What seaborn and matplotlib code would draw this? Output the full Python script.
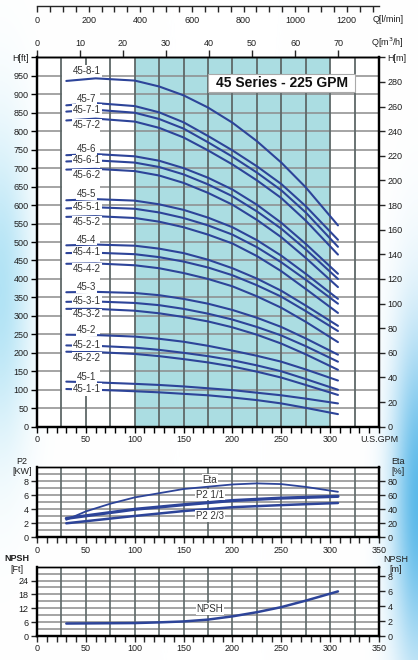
import numpy as np
import pandas as pd
import seaborn as sns
import matplotlib.pyplot as plt
from matplotlib.patches import Rectangle
from matplotlib.ticker import MultipleLocator

# %%
# head curves, H[ft] read at these flows (U.S.GPM)
gpm = [30, 60, 100, 125, 150, 175, 200, 225, 250, 275, 308]

h_45_8_1 = [936, 943, 937, 921, 897, 864, 823, 773, 715, 648, 545]
h_45_7 = [870, 876, 868, 851, 824, 787, 748, 705, 657, 597, 506]
h_45_7_1 = [853, 858, 850, 833, 807, 770, 731, 688, 640, 580, 487]
h_45_7_2 = [829, 834, 826, 809, 783, 748, 710, 667, 619, 558, 466]
h_45_6 = [735, 738, 732, 720, 700, 674, 642, 601, 552, 495, 414]
h_45_6_1 = [718, 721, 715, 703, 683, 656, 624, 583, 536, 480, 400]
h_45_6_2 = [696, 698, 692, 680, 660, 633, 601, 560, 513, 457, 378]
h_45_5 = [613, 616, 612, 602, 587, 566, 540, 505, 463, 414, 346]
h_45_5_1 = [591, 594, 590, 580, 565, 545, 520, 486, 445, 398, 333]
h_45_5_2 = [568, 570, 565, 555, 540, 520, 496, 462, 421, 373, 308]
h_45_4 = [491, 493, 490, 482, 470, 452, 429, 401, 368, 328, 273]
h_45_4_1 = [470, 471, 467, 459, 447, 431, 410, 383, 352, 313, 259]
h_45_4_2 = [441, 442, 437, 429, 416, 400, 380, 353, 322, 284, 229]
h_45_3 = [364, 365, 362, 356, 346, 333, 316, 295, 270, 239, 195]
h_45_3_1 = [338, 339, 335, 329, 319, 306, 290, 270, 247, 218, 176]
h_45_3_2 = [319, 319, 314, 307, 297, 285, 269, 249, 225, 196, 154]
h_45_2 = [249, 248, 244, 238, 230, 219, 206, 192, 176, 155, 125]
h_45_2_1 = [220, 219, 214, 208, 200, 191, 180, 166, 150, 129, 100]
h_45_2_2 = [203, 202, 197, 191, 183, 174, 163, 149, 133, 113, 86]
h_45_1 = [122, 120, 116, 113, 109, 104, 99, 92, 85, 76, 63]
h_45_1_1 = [102, 100, 96, 93, 89, 85, 79, 72, 63, 51, 34]

models = ['45-8-1', '45-7', '45-7-1', '45-7-2', '45-6', '45-6-1', '45-6-2',
          '45-5', '45-5-1', '45-5-2', '45-4', '45-4-1', '45-4-2',
          '45-3', '45-3-1', '45-3-2', '45-2', '45-2-1', '45-2-2',
          '45-1', '45-1-1']
heads = [h_45_8_1, h_45_7, h_45_7_1, h_45_7_2, h_45_6, h_45_6_1, h_45_6_2,
         h_45_5, h_45_5_1, h_45_5_2, h_45_4, h_45_4_1, h_45_4_2,
         h_45_3, h_45_3_1, h_45_3_2, h_45_2, h_45_2_1, h_45_2_2,
         h_45_1, h_45_1_1]

# power / efficiency
p2_gpm = [30, 100, 150, 200, 250, 308]
p2_full = [2.7, 4.0, 4.65, 5.25, 5.6, 5.85]
p2_23 = [2.0, 3.05, 3.75, 4.3, 4.6, 4.9]
eta_gpm = [30, 50, 75, 100, 150, 200, 225, 250, 275, 308]
eta_pct = [25, 37, 48, 57, 69, 75.5, 77, 76, 72, 65]

# NPSH [ft]
npsh_gpm = [30, 100, 125, 150, 175, 200, 225, 250, 275, 308]
npsh_ft = [5.4, 5.6, 5.9, 6.3, 7.1, 8.5, 10.3, 12.5, 15.3, 19.3]

title = '45 Series - 225 GPM'

# %%
sns.set_style('white')
plt.rcParams['font.family'] = ['Liberation Sans', 'DejaVu Sans']

BLUE = '#2d4499'
TEAL = '#abdde2'
VGRID = '#5e6868'
HGRID = '#8c8c8c'
TXT = '#1e1e1e'
W, H = 418, 660


def box(x0, y0, x1, y1):
    return [x0 / W, 1 - y1 / H, (x1 - x0) / W, (y1 - y0) / H]


def ftext(x, y, s, **kw):
    fig.text(x / W, 1 - y / H, s, ha='center', va='center', color=TXT, **kw)


def frame(a, lw=1.6):
    for s in ['left', 'right', 'bottom']:
        a.spines[s].set_linewidth(lw)
        a.spines[s].set_color('black')
    a.spines['top'].set_linewidth(1.0)
    a.spines['top'].set_color('black')


fig = plt.figure(figsize=(W / 100, H / 100), dpi=100)

# sky-like backdrop at the edges
bg = fig.add_axes([0, 0, 1, 1], zorder=-10)
yy, xx = np.mgrid[0:H, 0:W]
left = 0.55 * np.exp(-(xx / 30.0) ** 2) * np.exp(-((yy - 290) / 150.0) ** 2)
right = 0.85 * np.exp(-((W - xx) / 26.0) ** 2) * np.exp(-((yy - 500) / 170.0) ** 2)
img = np.ones((H, W, 3))
img = img * (1 - left[..., None]) + np.array([0.45, 0.80, 0.93]) * left[..., None]
img = img * (1 - right[..., None]) + np.array([0.25, 0.68, 0.90]) * right[..., None]
bg.imshow(img, aspect='auto')
bg.axis('off')

# %%
# main head chart
ax = fig.add_axes(box(37, 57.3, 379, 426.7))
ax.set_facecolor('white')
ax.set_xlim(0, 350)
ax.set_ylim(0, 1000)
ax.axvspan(100, 300, color=TEAL, zorder=0, lw=0)
for y in range(50, 1000, 50):
    ax.axhline(y, color=HGRID, lw=1.1, zorder=1)
for x in range(25, 350, 25):
    if x != 50:
        ax.axvline(x, color=VGRID, lw=1.3, zorder=1.2)
ax.add_patch(Rectangle((25.8, 86), 38.5, 890, fc='white', ec='none', zorder=1.5))
ax.vlines(50, 0, 84, color=VGRID, lw=1.3, zorder=1.2)
ax.vlines(50, 978, 1000, color=VGRID, lw=1.3, zorder=1.2)

rows = []
for m, h in zip(models, heads):
    for q, v in zip(gpm, h):
        rows.append((m, q, v))
df = pd.DataFrame(rows, columns=['model', 'gpm', 'head'])
sns.lineplot(data=df, x='gpm', y='head', hue='model', hue_order=models,
             palette=[BLUE] * len(models), legend=False, estimator=None,
             sort=False, lw=1.5, zorder=3, ax=ax)

for m, h in zip(models, heads):
    if m == '45-8-1':
        off = 21
    elif m.count('-') == 1:
        off = 14
    elif m.endswith('-1'):
        off = 1
    else:
        off = -15
    ax.text(51, np.interp(51, gpm, h) + off, m, ha='center', va='center',
            fontsize=7, color='#333333', zorder=4,
            bbox=dict(boxstyle='square,pad=0.08', fc='white', ec='none'))

ax.add_patch(Rectangle((175.5, 905), 150, 49, fc='white', ec='#aaaaaa', lw=0.8, zorder=5))
ax.text(250.5, 929.5, title, ha='center', va='center', fontsize=10,
        fontweight='bold', color='#111111', zorder=6)

ax.set_xlabel('')
ax.set_ylabel('')
ax.set_yticks(list(range(0, 1000, 50)) + [1000])
ax.set_yticklabels([str(v) for v in range(0, 1000, 50)] + ['H[ft]'])
ax.set_xticks(range(0, 351, 50))
ax.set_xticklabels([str(v) for v in range(0, 301, 50)] + ['U.S.GPM'])
ax.xaxis.set_minor_locator(MultipleLocator(10))
ax.tick_params(axis='both', which='both', direction='out', length=4, width=1,
               labelsize=6.5, pad=2, colors='black', labelcolor=TXT)
ax.tick_params(axis='x', which='both', bottom=True)
ax.tick_params(axis='y', left=True)
frame(ax)

axr = ax.twinx()
axr.set_ylim(0, 300)
axr.set_yticks(list(range(0, 300, 20)) + [300])
axr.set_yticklabels([str(v) for v in range(0, 300, 20)] + ['H[m]'])
axr.tick_params(axis='y', direction='out', length=4, width=1, labelsize=6.5,
                pad=2, right=True, labelcolor=TXT)
frame(axr)

sec = ax.secondary_xaxis('top', functions=(lambda q: q * 0.22712, lambda m: m / 0.22712))
sec.set_xticks(range(0, 71, 10))
sec.tick_params(direction='out', length=5, width=1, labelsize=6.5, pad=2, labelcolor=TXT)
sec.spines['top'].set_linewidth(1.0)

axl = fig.add_axes(box(37, 5, 379, 6))
axl.set_facecolor('none')
axl.set_xlim(0, 350 * 3.7854)
axl.set_yticks([])
for s in ['left', 'right', 'top']:
    axl.spines[s].set_visible(False)
axl.spines['bottom'].set_linewidth(1.0)
axl.set_xticks(range(0, 1201, 200))
axl.xaxis.set_minor_locator(MultipleLocator(50))
axl.tick_params(axis='x', which='both', direction='out', length=4, width=1,
                labelsize=6.5, pad=3, bottom=True, labelcolor=TXT)

ftext(388, 20, 'Q[l/min]', fontsize=6.5)
ftext(387, 43, 'Q[m$^3$/h]', fontsize=6.5)

# %%
# P2 / Eta panel
ax2 = fig.add_axes(box(37, 467.3, 379, 537.3))
ax2.set_facecolor('white')
ax2.set_xlim(0, 350)
ax2.set_ylim(0, 10)
for y in range(1, 10):
    ax2.axhline(y, color=HGRID, lw=1.1, zorder=1)
for x in range(25, 350, 25):
    ax2.axvline(x, color=VGRID, lw=1.2, zorder=1.2)
sns.lineplot(x=p2_gpm, y=p2_full, color=BLUE, lw=2.3, zorder=3, ax=ax2)
sns.lineplot(x=p2_gpm, y=p2_23, color=BLUE, lw=1.8, zorder=3, ax=ax2)
ax2.set_yticks(range(0, 9, 2))
ax2.set_xticks(range(0, 351, 50))
ax2.xaxis.set_minor_locator(MultipleLocator(10))
ax2.tick_params(axis='both', which='both', direction='out', length=4, width=1,
                labelsize=6.5, pad=2, bottom=True, left=True, labelcolor=TXT)
frame(ax2)

ax2r = ax2.twinx()
ax2r.set_ylim(0, 100)
sns.lineplot(x=eta_gpm, y=eta_pct, color=BLUE, lw=1.3, zorder=3, ax=ax2r)
ax2r.set_yticks(range(0, 81, 20))
ax2r.tick_params(axis='y', direction='out', length=4, width=1, labelsize=6.5,
                 pad=2, right=True, labelcolor=TXT)
frame(ax2r)
lab_box = dict(boxstyle='square,pad=0.08', fc='white', ec='none')
for txt, yv in [('Eta', 8.2), ('P2 1/1', 6.1), ('P2 2/3', 3.05)]:
    ax2.text(177, yv, txt, ha='center', va='center', fontsize=7,
             color='#333333', zorder=4, bbox=lab_box)

ftext(21.7, 461.7, 'P2', fontsize=6.5)
ftext(21.7, 471.7, '[KW]', fontsize=6.5)
ftext(397.7, 461.7, 'Eta', fontsize=6.5)
ftext(397.7, 471.7, '[%]', fontsize=6.5)

# %%
# NPSH panel
ax3 = fig.add_axes(box(37, 566.7, 379, 636))
ax3.set_facecolor('white')
ax3.set_xlim(0, 350)
ax3.set_ylim(0, 30)
for y in range(3, 30, 3):
    ax3.axhline(y, color=HGRID, lw=1.1, zorder=1)
for x in range(25, 350, 25):
    ax3.axvline(x, color=VGRID, lw=1.2, zorder=1.2)
sns.lineplot(x=npsh_gpm, y=npsh_ft, color=BLUE, lw=1.8, zorder=3, ax=ax3)
ax3.text(177, 11.7, 'NPSH', ha='center', va='center', fontsize=7,
         color='#333333', zorder=4, bbox=lab_box)
ax3.set_yticks(range(0, 25, 6))
ax3.set_xticks(range(0, 351, 50))
ax3.xaxis.set_minor_locator(MultipleLocator(10))
ax3.tick_params(axis='both', which='both', direction='out', length=4, width=1,
                labelsize=6.5, pad=2, bottom=True, left=True, labelcolor=TXT)
frame(ax3)

ax3r = ax3.twinx()
ax3r.set_ylim(0, 9.3)
ax3r.set_yticks(range(0, 9, 2))
ax3r.tick_params(axis='y', direction='out', length=4, width=1, labelsize=6.5,
                 pad=2, right=True, labelcolor=TXT)
frame(ax3r)

ftext(17, 558.3, 'NPSH', fontsize=6.5, fontweight='bold')
ftext(17, 569, '[Ft]', fontsize=6.5)
ftext(395.7, 560, 'NPSH', fontsize=6.5)
ftext(395.7, 569, '[m]', fontsize=6.5)

plt.savefig('out.png', dpi=100)
